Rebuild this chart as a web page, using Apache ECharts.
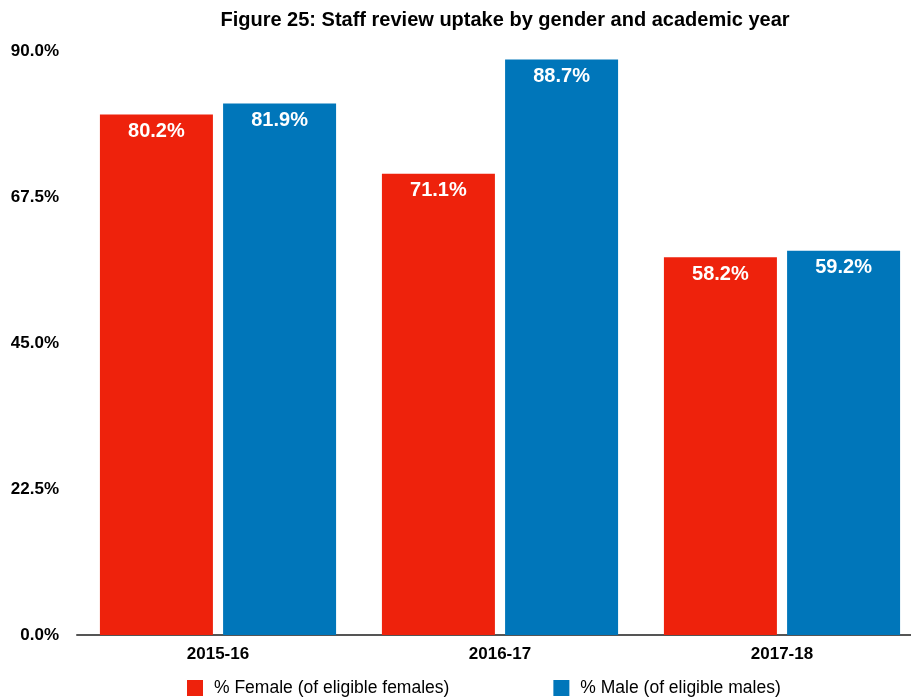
<!DOCTYPE html>
<html>
<head>
<meta charset="utf-8">
<title>Staff review uptake</title>
<script src="https://cdn.jsdelivr.net/npm/echarts@6/dist/echarts.min.js"></script>
<style>
  html, body { margin: 0; padding: 0; background: #ffffff; }
  #chart { width: 911px; height: 697px; }
</style>
</head>
<body>
<div id="chart"></div>
<script>
// Academic years and uptake (% of eligible staff) per gender
const years = ['2015-16', '2016-17', '2017-18'];
const femaleUptake = [80.2, 71.1, 58.2];
const maleUptake = [81.9, 88.7, 59.2];
const seriesNames = ['% Female (of eligible females)', '% Male (of eligible males)'];
const yTicks = { min: 0, max: 90, interval: 22.5 };

const FONT = '"Liberation Sans", Arial, Helvetica, sans-serif';
const RED = '#EE220C';
const BLUE = '#0076BA';

const chart = echarts.init(document.getElementById('chart'), null, { renderer: 'canvas' });

const valueLabel = {
  show: true,
  position: 'insideTop',
  distance: 7,
  color: '#ffffff',
  fontFamily: FONT,
  fontWeight: 'bold',
  fontSize: 20,
  formatter: p => p.value.toFixed(1) + '%'
};

chart.setOption({
  animation: false,
  backgroundColor: '#ffffff',
  title: {
    text: 'Figure 25: Staff review uptake by gender and academic year',
    left: 500,
    textAlign: 'center',
    top: 5,
    textStyle: { fontFamily: FONT, fontWeight: 'bold', fontSize: 20, color: '#000' }
  },
  legend: {
    data: seriesNames,
    top: 674,
    left: 182,
    itemWidth: 16,
    itemHeight: 16,
    itemGap: 104,
    icon: 'rect',
    textStyle: { fontFamily: FONT, fontSize: 17.5, color: '#000', padding: [0, 0, 0, 6] }
  },
  // the plot band runs past the right edge so the axis line reaches the border
  grid: {
    left: 77, width: 846, top: 51, bottom: 62,
    containLabel: false,
    outerBoundsMode: 'none'
  },
  xAxis: {
    type: 'category',
    data: years,
    axisLine: { show: true, lineStyle: { color: '#555555', width: 2 } },
    axisTick: { show: false },
    axisLabel: {
      margin: 11,
      color: '#000',
      fontFamily: FONT,
      fontWeight: 'bold',
      fontSize: 17
    }
  },
  yAxis: {
    type: 'value',
    min: yTicks.min,
    max: yTicks.max,
    interval: yTicks.interval,
    axisLine: { show: false },
    axisTick: { show: false },
    splitLine: { show: false },
    axisLabel: {
      margin: 18,
      color: '#000',
      fontFamily: FONT,
      fontWeight: 'bold',
      fontSize: 17,
      formatter: v => v.toFixed(1) + '%'
    }
  },
  series: [
    {
      name: seriesNames[0],
      type: 'bar',
      data: femaleUptake,
      barWidth: 113,
      barGap: '9%',
      itemStyle: { color: RED },
      label: valueLabel
    },
    {
      name: seriesNames[1],
      type: 'bar',
      data: maleUptake,
      barWidth: 113,
      barGap: '9%',
      itemStyle: { color: BLUE },
      label: valueLabel
    }
  ]
});
</script>
</body>
</html>
